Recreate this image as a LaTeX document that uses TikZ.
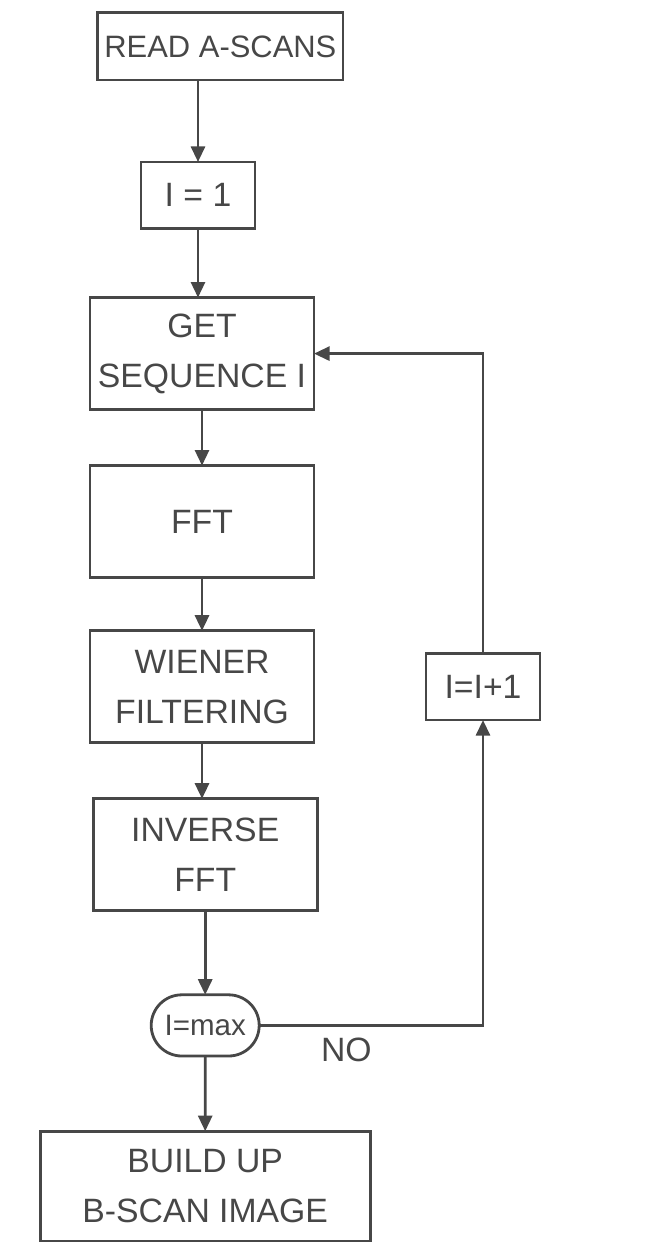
\documentclass[tikz,border=0pt]{standalone}
\usepackage{fontspec}
\setmainfont{Liberation Sans}
\usetikzlibrary{arrows.meta,positioning,shapes.misc}
\definecolor{ink}{gray}{0.28}
\tikzset{
 box/.style={draw=ink,line width=2pt,align=center,inner sep=0pt,outer sep=0pt,
             text=ink,minimum height=2.8cm,minimum width=5.6cm,
             font=\fontsize{24}{35.5}\selectfont},
 smallbox/.style={box,minimum height=1.66cm,minimum width=2.85cm},
 test/.style={box,rounded rectangle,minimum height=1.53cm,minimum width=2.7cm,
              font=\fontsize{21}{25}\selectfont},
 arrow/.style={-{Triangle[length=3.9mm,width=3.5mm]},draw=ink,line width=2pt},
}

\begin{document}
\begin{tikzpicture}[node distance=1.4cm and 2.8cm]
\useasboundingbox (0,0) rectangle (16.15,-31.05);
\node[box,minimum width=6.13cm,minimum height=1.68cm,font=\fontsize{22}{26}\selectfont] (read) at (5.51,-1.16) {READ A-SCANS};
\node[smallbox,below=2.05cm of read,xshift=-0.56cm] (init) {I = 1};
\node[box,below=1.73cm of init,xshift=0.1cm] (get) {GET\\SEQUENCE I};
\node[box,below=of get] (fft) {FFT};
\node[box,below=1.33cm of fft] (wiener) {WIENER\\FILTERING};
\node[box,below=of wiener,xshift=0.08cm] (inverse) {INVERSE\\FFT};
\node[test,below=2.1cm of inverse] (check) {I=max};
\node[box,below=1.88cm of check,minimum width=8.25cm,minimum height=2.75cm] (build) {BUILD UP\\B-SCAN IMAGE};
\node[smallbox,right=of wiener] (incr) {I=I+1};
\node[text=ink,font=\fontsize{24}{26}\selectfont] (no) at ([xshift=2.18cm,yshift=-0.6cm]check.east) {NO};
\draw[arrow] (init.north |- read.south) -- (init);
\draw[arrow] (init) -- (init |- get.north);
\draw[arrow] (get) -- (get |- fft.north);
\draw[arrow] (fft) -- (fft |- wiener.north);
\draw[arrow] (wiener) -- (wiener |- inverse.north);
\draw[arrow] (inverse) -- (inverse |- check.north);
\draw[arrow] (check) -- (check |- build.north);
% loop back
\draw[arrow] (check.east) -| (incr);
\draw[arrow] (incr) |- (get.east);
\end{tikzpicture}
\end{document}
